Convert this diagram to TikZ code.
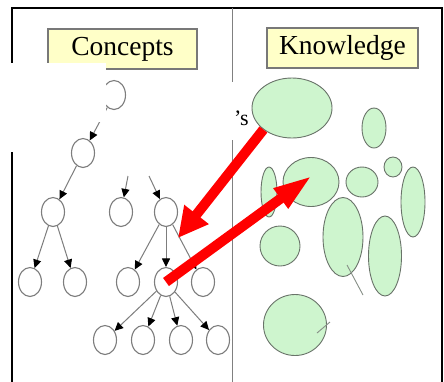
\documentclass[tikz,border=0pt]{standalone}
\usepackage{fontspec}
\setmainfont{Liberation Serif}
\usetikzlibrary{shapes.geometric,arrows.meta}
\definecolor{kfill}{RGB}{206,245,206}
\definecolor{kdraw}{RGB}{105,115,105}
\definecolor{yfill}{RGB}{255,255,200}
\definecolor{ydraw}{RGB}{120,120,120}
\definecolor{tgray}{RGB}{125,125,125}
\begin{document}
\begin{tikzpicture}[x=1pt,y=-1pt,
  ybox/.style={draw=ydraw,line width=1.3pt,fill=yfill,inner sep=0pt,minimum height=40pt,font=\fontsize{27.5}{32}\selectfont},
  tnode/.style={ellipse,draw=tgray,line width=1.1pt,fill=white,minimum width=23pt,minimum height=29pt,inner sep=0pt},
  tarrow/.style={draw=tgray,line width=1pt,-{Triangle[length=8.5pt,width=8pt,color=black]}},
  knode/.style={ellipse,draw=kdraw,line width=0.9pt,fill=kfill,inner sep=0pt},
  kline/.style={draw=kdraw!80,line width=0.9pt},
  redarrow/.style={draw=red,line width=10pt,line cap=butt},
  patch/.style={fill=white,draw=none}]
\useasboundingbox (0,0) rectangle (444,381);
\fill[white] (0,0) rectangle (444,381);
% frame and divider
\draw[line width=1.8pt] (12,400) -- (12,8) -- (442,8) -- (442,400);
\draw[gray,line width=0.8pt] (232,8) -- (232,400);
% white overlays behind the tree
\fill[patch] (0,82) rectangle (237,140);
\fill[patch] (0,140) rectangle (20,152);
% titles
\node[ybox,minimum width=149pt] (cbox) at (122.5,49) {Concepts};
\node[ybox,minimum width=151pt] (kbox) at (342.5,48) {Knowledge};
% concept tree
\node[tnode] (r) at (114,95) {};
\node[tnode] (a) at (83,153) {};
\node[tnode] (l1) at (53,212) {};
\node[tnode] (l2) at (30,282) {};
\node[tnode] (l3) at (75,282) {};
\node[tnode] (m1) at (121,212) {};
\node[tnode] (m2) at (166,212) {};
\node[tnode] (m3) at (128,282) {};
\node[tnode] (m4) at (166,282) {};
\node[tnode] (m5) at (203,282) {};
\node[tnode] (q1) at (105,340) {};
\node[tnode] (q2) at (143,340) {};
\node[tnode] (q3) at (181,340) {};
\node[tnode] (q4) at (218,340) {};
\coordinate (c1) at (128,176);
\coordinate (c2) at (149,176);
\draw[tarrow] (r) -- (a);
\draw[tarrow] (a) -- (l1);
\draw[tarrow] (l1) -- (l2);
\draw[tarrow] (l1) -- (l3);
\draw[tarrow] (c1) -- (m1);
\draw[tarrow] (c2) -- (m2);
\draw[tarrow] (m2) -- (m3);
\draw[tarrow] (m2) -- (m4);
\draw[tarrow] (m2) -- (m5);
\draw[tarrow] (m4) -- (q1);
\draw[tarrow] (m4) -- (q2);
\draw[tarrow] (m4) -- (q3);
\draw[tarrow] (m4) -- (q4);
% overlay hiding the left part of the root
\fill[patch] (0,63) rectangle (106,122);
% partly hidden label
\node[anchor=base east,inner sep=0pt,font=\fontsize{22}{26}\selectfont] (s) at (249,125) {’s};
% knowledge blobs
\node[knode,minimum width=80pt,minimum height=60pt] (k1) at (292,108) {};
\node[knode,minimum width=24pt,minimum height=40pt] (k2) at (374,128) {};
\node[knode,minimum width=16pt,minimum height=50pt] (k3) at (269,192) {};
\node[knode,minimum width=56pt,minimum height=49pt] (k4) at (311,182) {};
\node[knode,minimum width=32pt,minimum height=30pt] (k5) at (362,182) {};
\node[knode,minimum width=18pt,minimum height=20pt] (k6) at (393,167) {};
\node[knode,minimum width=24pt,minimum height=70pt] (k7) at (413,202) {};
\node[knode,minimum width=40pt,minimum height=40pt] (k8) at (280,246) {};
\node[knode,minimum width=40pt,minimum height=79pt] (k9) at (343,237) {};
\node[knode,minimum width=33pt,minimum height=80pt] (k10) at (385,256) {};
\node[knode,minimum width=63pt,minimum height=61pt] (k11) at (295,325) {};
\coordinate (e9a) at (347,265);
\coordinate (e9b) at (363,295);
\coordinate (e11a) at (317,333);
\coordinate (e11b) at (330,322);
\draw[kline] (e9a) -- (e9b);
\draw[kline] (e11a) -- (e11b);
% red arrows
\coordinate (t1) at (178,238);
\coordinate (t2) at (313,175);
\draw[redarrow,-{Triangle[length=30pt,width=29pt]}] (k1.south west) -- (t1);
\draw[redarrow,-{Triangle[length=40pt,width=22pt]}] (m4.center) -- (t2);
\end{tikzpicture}
\end{document}
